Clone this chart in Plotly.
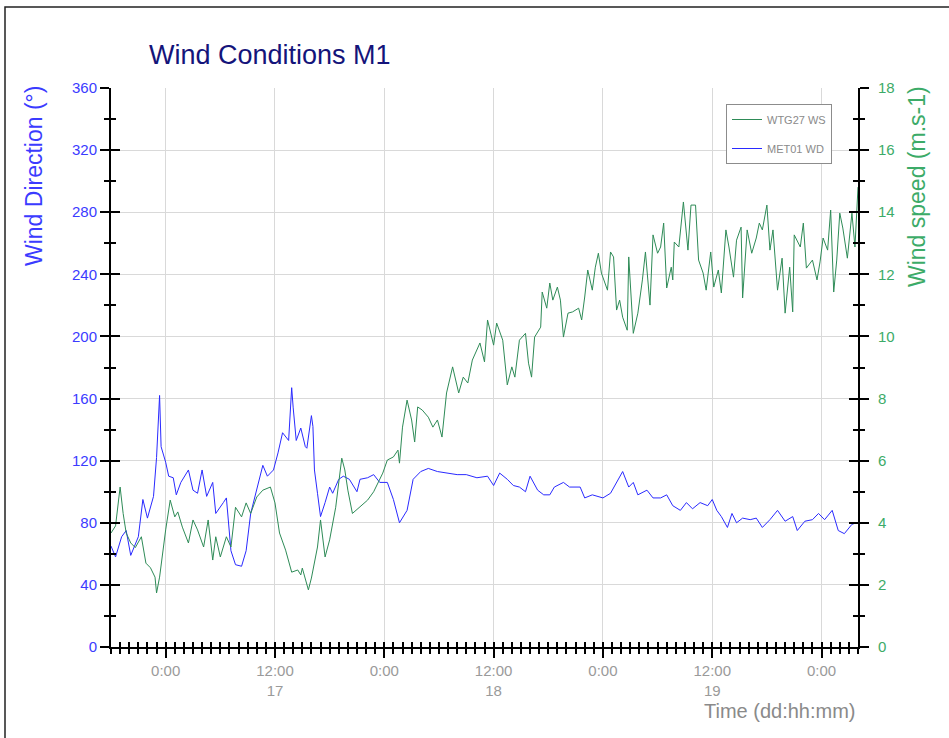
import pandas as pd
import plotly.graph_objects as go

# ---------------- data ----------------
START = "2014-06-16 18:00"
END = "2014-06-20 04:00"

# MET01 WD : minutes after START, wind direction (deg)
wd_minutes = [0, 30, 70, 100, 130, 180, 210, 240, 280, 300, 320, 330, 360, 380, 410, 430,
              460, 510, 540, 570, 600, 630, 670, 690, 740, 760, 790, 820, 860, 890, 920,
              960, 1000, 1030, 1070, 1100, 1130, 1170, 1190, 1200, 1220, 1250, 1280, 1290,
              1320, 1330, 1340, 1360, 1380, 1410, 1440, 1460, 1500, 1530, 1570, 1620, 1640,
              1690, 1730, 1770, 1820, 1860, 1900, 1950, 1990, 2040, 2090, 2150, 2210, 2280,
              2340, 2410, 2480, 2520, 2560, 2610, 2650, 2690, 2730, 2760, 2810, 2850, 2890,
              2920, 2980, 3020, 3090, 3120, 3170, 3240, 3290, 3330, 3370, 3410, 3440, 3470,
              3530, 3570, 3620, 3660, 3700, 3750, 3790, 3830, 3880, 3930, 3960, 3990, 4020,
              4060, 4090, 4120, 4160, 4210, 4250, 4290, 4340, 4390, 4440, 4490, 4520, 4570,
              4620, 4660, 4700, 4750, 4790, 4830, 4880, 4910]
wd_values = [65, 58, 71, 75, 59, 71, 95, 83, 97, 122, 162, 129, 119, 110, 109, 98,
             106, 114, 101, 99, 114, 97, 106, 86, 93, 96, 62, 53, 52, 62, 86,
             101, 117, 110, 114, 125, 138, 133, 167, 154, 133, 141, 129, 128,
             149, 142, 114, 99, 84, 93, 103, 99, 108, 110, 108, 100, 108,
             109, 111, 106, 106, 95, 80, 88, 108, 113, 115, 113, 112, 111,
             111, 109, 110, 104, 112, 108, 104, 103, 100, 110, 101, 98, 98,
             103, 106, 103, 103, 96, 98, 96, 99, 106, 113, 103, 106, 98,
             101, 96, 96, 98, 91, 88, 93, 89, 93, 91, 95, 88, 84,
             77, 86, 80, 83, 82, 83, 77, 82, 88, 81, 84, 75, 81,
             82, 86, 82, 88, 75, 73, 79, 80]

# WTG27 WS : minutes after START, wind speed (m/s)
ws_minutes = [0, 30, 60, 80, 100, 130, 160, 200, 230, 260, 290, 300, 320, 340, 360, 390,
              420, 440, 470, 510, 540, 570, 610, 640, 670, 690, 720, 760, 790, 820, 860,
              890, 920, 960, 1000, 1050, 1080, 1110, 1150, 1190, 1230, 1250, 1260, 1300,
              1320, 1360, 1380, 1410, 1440, 1480, 1500, 1520, 1540, 1560, 1590, 1640, 1690,
              1730, 1760, 1790, 1820, 1860, 1890, 1900, 1920, 1950, 1980, 2000, 2020, 2050,
              2090, 2120, 2150, 2180, 2210, 2250, 2290, 2320, 2350, 2380, 2430, 2460, 2480,
              2520, 2540, 2580, 2610, 2640, 2660, 2690, 2730, 2750, 2770, 2790, 2830, 2840,
              2870, 2890, 2910, 2940, 2960, 2980, 3010, 3040, 3080, 3100, 3120, 3140, 3170,
              3190, 3210, 3230, 3270, 3290, 3310, 3330, 3350, 3370, 3400, 3410, 3440, 3470,
              3500, 3520, 3550, 3570, 3600, 3620, 3640, 3660, 3690, 3700, 3710, 3740, 3770,
              3800, 3820, 3850, 3870, 3900, 3920, 3950, 3970, 4000, 4020, 4050, 4070, 4100,
              4120, 4150, 4160, 4190, 4220, 4250, 4270, 4290, 4320, 4340, 4360, 4390, 4420,
              4440, 4470, 4490, 4500, 4540, 4560, 4580, 4620, 4650, 4670, 4690, 4720, 4740,
              4760, 4780, 4800, 4820, 4850, 4880, 4900, 4920]
ws_values = [3.67, 3.9, 5.15, 4.3, 3.67, 3.35, 3.2, 3.55, 2.7, 2.55, 2.25, 1.74, 2.25, 3.06, 3.77, 4.73,
             4.19, 4.35, 3.86, 3.35, 4.09, 3.77, 3.22, 4.09, 2.8, 3.55, 2.9, 3.55, 3.22, 4.5, 4.19,
             4.64, 4.3, 4.83, 5.05, 5.15, 4.64, 3.67, 3.12, 2.41, 2.48, 2.32, 2.54, 1.84,
             2.22, 3.22, 4.09, 2.9, 3.45, 4.5, 5.28, 6.08, 5.7, 5.05, 4.3, 4.5, 4.73,
             5.0, 5.28, 5.6, 6.02, 6.12, 6.34, 5.92, 7.08, 7.95, 7.31, 6.6, 7.73, 7.63,
             7.4, 7.08, 7.31, 6.76, 8.18, 9.02, 8.18, 8.69, 8.5, 9.24, 9.79, 9.18, 10.53,
             9.72, 10.43, 9.88, 8.44, 9.02, 8.69, 9.88, 10.1, 9.14, 8.69, 9.98, 10.3, 11.43,
             10.91, 11.72, 11.17, 11.59, 11.17, 9.98, 10.75, 10.79, 10.91, 10.53, 11.27, 12.14, 11.49,
             12.23, 12.68, 12.04, 11.49, 12.72, 12.56, 10.85, 11.17, 10.62, 10.2, 12.56, 10.1, 10.75,
             11.82, 12.72, 11.01, 13.27, 12.68, 12.88, 13.65, 11.56, 12.23, 11.82, 13.04, 12.88, 14.33,
             12.78, 14.23, 14.23, 12.46, 12.04, 11.49, 12.72, 11.59, 12.14, 11.4, 13.43, 12.88, 11.91,
             13.1, 13.52, 11.24, 13.43, 12.68, 13.17, 13.65, 13.43, 14.23, 12.78, 13.43, 11.49, 12.52,
             10.75, 12.23, 10.79, 13.27, 12.88, 13.65, 12.2, 12.46, 11.82, 12.4, 13.17, 12.78, 14.07,
             11.43, 12.46, 13.97, 13.49, 12.52, 13.97, 12.88, 14.81]

x_tick_vals = ["2014-06-17 00:00", "2014-06-17 12:00", "2014-06-18 00:00", "2014-06-18 12:00",
               "2014-06-19 00:00", "2014-06-19 12:00", "2014-06-20 00:00"]
x_tick_text = ["0:00", "12:00<br>17", "0:00", "12:00<br>18", "0:00", "12:00<br>19", "0:00"]

wd_time = pd.Timestamp(START) + pd.to_timedelta(wd_minutes, unit="min")
ws_time = pd.Timestamp(START) + pd.to_timedelta(ws_minutes, unit="min")

# ---------------- styling ----------------
FONT = "Liberation Sans, Arial, sans-serif"
BLUE = "#3b3bff"
BLUE_LINE = "#2a2aff"
GREEN_TXT = "#3cab68"
GREEN_LINE = "#2e8b57"
GRAY_TXT = "#9a9a9a"
GRID = "#d9d9d9"

fig = go.Figure()

fig.add_trace(go.Scatter(x=ws_time, y=ws_values, name="WTG27 WS", mode="lines",
                         line=dict(color=GREEN_LINE, width=1), yaxis="y2",
                         legendgroup="a"))
fig.add_trace(go.Scatter(x=wd_time, y=wd_values, name="MET01 WD", mode="lines",
                         line=dict(color=BLUE_LINE, width=1), yaxis="y",
                         legendgroup="b"))
# empty helper traces so the tick-only overlay axes are drawn
fig.add_trace(go.Scatter(x=[], y=[], xaxis="x3", yaxis="y3", showlegend=False, hoverinfo="skip"))
fig.add_trace(go.Scatter(x=[], y=[], xaxis="x3", yaxis="y4", showlegend=False, hoverinfo="skip"))

xr = [START, END]
major_len, minor_len, tw = 9, 5, 1.6

fig.update_layout(
    width=949, height=738,
    margin=dict(l=111, r=91, t=88, b=91),
    paper_bgcolor="white", plot_bgcolor="white",
    font=dict(family=FONT, size=15),
    title=dict(text="Wind Conditions M1", font=dict(family=FONT, size=27, color="#14147a"),
               x=(149 - 111) / 747, xref="paper", xanchor="left",
               y=1 - 55 / 738, yref="container", yanchor="middle"),
    showlegend=True,
    legend=dict(x=(726 - 111) / 747, y=(647 - 104) / 559, xanchor="left", yanchor="top",
                bordercolor="#8c8c8c", borderwidth=1, bgcolor="white",
                font=dict(family=FONT, size=11, color="#8a8a8a"),
                traceorder="grouped", tracegroupgap=10, itemwidth=30),
    xaxis=dict(type="date", range=xr, tickmode="array", tickvals=x_tick_vals, ticktext=x_tick_text,
               ticks="outside", ticklen=major_len, tickwidth=tw, tickcolor="black",
               showline=True, linecolor="black", linewidth=2,
               showgrid=True, gridcolor=GRID, gridwidth=1, zeroline=False,
               tickfont=dict(family=FONT, size=15, color=GRAY_TXT),
               minor=dict(tickmode="linear", tick0=START, dtick=3600000, ticks="outside",
                          ticklen=minor_len, tickwidth=tw, tickcolor="black", showgrid=False),
               anchor="y"),
    xaxis3=dict(type="date", range=xr, overlaying="x", matches="x", anchor="y",
                tickmode="array", tickvals=x_tick_vals, ticktext=["" for _ in x_tick_vals],
                ticks="inside", ticklen=major_len, tickwidth=tw, tickcolor="black",
                showline=False, showgrid=False, zeroline=False, showticklabels=False,
                minor=dict(tickmode="linear", tick0=START, dtick=3600000, ticks="inside",
                           ticklen=minor_len, tickwidth=tw, tickcolor="black", showgrid=False)),
    yaxis=dict(range=[0, 360], tickmode="linear", tick0=0, dtick=40,
               ticks="outside", ticklen=major_len, tickwidth=tw, tickcolor="black",
               showline=True, linecolor="black", linewidth=2,
               showgrid=True, gridcolor=GRID, gridwidth=1, zeroline=False,
               tickfont=dict(family=FONT, size=15, color=BLUE),
               minor=dict(tickmode="linear", tick0=0, dtick=20, ticks="outside",
                          ticklen=minor_len, tickwidth=tw, tickcolor="black", showgrid=False),
               anchor="x", side="left"),
    yaxis3=dict(range=[0, 360], overlaying="y", matches="y", anchor="x", side="left",
                tickmode="linear", tick0=0, dtick=40,
                ticks="inside", ticklen=major_len, tickwidth=tw, tickcolor="black",
                showline=False, showgrid=False, zeroline=False, showticklabels=False,
                minor=dict(tickmode="linear", tick0=0, dtick=20, ticks="inside",
                           ticklen=minor_len, tickwidth=tw, tickcolor="black", showgrid=False)),
    yaxis2=dict(range=[0, 18], overlaying="y", side="right", anchor="x",
                tickmode="linear", tick0=0, dtick=2,
                ticks="outside", ticklen=major_len, tickwidth=tw, tickcolor="black",
                showline=True, linecolor="black", linewidth=2,
                showgrid=False, zeroline=False, ticklabelstandoff=6,
                tickfont=dict(family=FONT, size=15, color=GREEN_TXT),
                minor=dict(tickmode="linear", tick0=0, dtick=1, ticks="outside",
                           ticklen=minor_len, tickwidth=tw, tickcolor="black", showgrid=False)),
    yaxis4=dict(range=[0, 18], overlaying="y", matches="y2", side="right", anchor="x",
                tickmode="linear", tick0=0, dtick=2,
                ticks="inside", ticklen=major_len, tickwidth=tw, tickcolor="black",
                showline=False, showgrid=False, zeroline=False, showticklabels=False,
                minor=dict(tickmode="linear", tick0=0, dtick=1, ticks="inside",
                           ticklen=minor_len, tickwidth=tw, tickcolor="black", showgrid=False)),
)

# axis titles placed as annotations (positions match the reference)
fig.add_annotation(text="Wind Direction (°)", textangle=-90, showarrow=False,
                   xref="paper", yref="paper", x=(34 - 111) / 747, y=(647 - 176) / 559,
                   xanchor="center", yanchor="middle",
                   font=dict(family=FONT, size=23, color=BLUE))
fig.add_annotation(text="Wind speed (m.s-1)", textangle=-90, showarrow=False,
                   xref="paper", yref="paper", x=(917 - 111) / 747, y=(647 - 187) / 559,
                   xanchor="center", yanchor="middle",
                   font=dict(family=FONT, size=23, color=GREEN_TXT))
fig.add_annotation(text="Time (dd:hh:mm)", showarrow=False,
                   xref="paper", yref="paper", x=1.0, y=(647 - 711) / 559,
                   xanchor="right", yanchor="middle",
                   font=dict(family=FONT, size=20, color="#8a8a8a"))

# outer frame of the chart
fig.add_shape(type="rect", xref="paper", yref="paper",
              x0=(5 - 111) / 747, x1=(960 - 111) / 747,
              y0=(647 - 750) / 559, y1=(647 - 7) / 559,
              line=dict(color="#222222", width=1.5), fillcolor="rgba(0,0,0,0)", layer="below")

fig.write_html("out.html")
